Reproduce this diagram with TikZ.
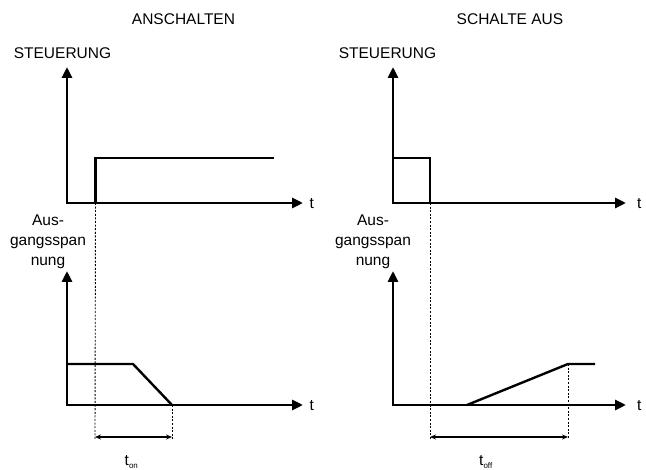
\documentclass[tikz,border=0pt]{standalone}
\usepackage{fontspec}
\setmainfont{Liberation Sans}
\usetikzlibrary{arrows.meta}
\begin{document}
\begin{tikzpicture}[x=1pt,y=-1pt,
  axis/.style={line width=2.8pt,line join=miter,{Triangle[length=11pt,width=10pt]}-{Triangle[length=11pt,width=10pt]}},
  sig/.style={line width=2.4pt,line join=miter},
  guide/.style={line width=0.9pt,dash pattern=on 2pt off 1.6pt},
  span/.style={line width=1.1pt,{Stealth[length=6pt,width=5pt]}-{Stealth[length=6pt,width=5pt]}},
  lbl/.style={font=\fontsize{15.5}{20}\selectfont,inner sep=0pt,anchor=base},
  tl/.style={lbl,anchor=base west}]
\useasboundingbox (0,0) rectangle (646,470);

% ---------- left panel: ANSCHALTEN ----------
\node[lbl] (titleL) at (183.5,25) {ANSCHALTEN};
\node[lbl] (steuL) at (62.5,58.5) {STEUERUNG};
\coordinate (aTopL) at (67,67);
\coordinate (aOrgL) at (67,203);
\coordinate (aEndL) at (303,203);
\draw[axis] (aTopL) -- (aOrgL) -- (aEndL);
\node[tl] (tUL) at (309.5,208.5) {t};
\coordinate (s1) at (95.5,203);
\coordinate (s2) at (95.5,158);
\coordinate (s3) at (274,158);
\draw[sig] (s1) -- (s2) -- (s3);

\node[lbl] (ausL1) at (48,225.5) {Aus-};
\node[lbl] (ausL2) at (48,246) {gangsspan};
\node[lbl] (ausL3) at (48,266) {nung};
\coordinate (bTopL) at (67,271);
\coordinate (bOrgL) at (67,405);
\coordinate (bEndL) at (303,405);
\draw[axis] (bTopL) -- (bOrgL) -- (bEndL);
\node[tl] (tLL) at (309.5,410.5) {t};
\coordinate (o1) at (67,364);
\coordinate (o2) at (133,364);
\coordinate (o3) at (172,405);
\draw[sig] (o1) -- (o2) -- (o3);

\coordinate (gL1) at (95,439);
\coordinate (gL2) at (172,439);
\draw[guide] (s1) -- (gL1);
\draw[guide] (o3) -- (gL2);
\coordinate (arL1) at (95,437);
\coordinate (arL2) at (172,437);
\draw[span] (arL1) -- (arL2);
\node[tl] (ton) at (124.5,465.5) {t\raisebox{-3pt}{\fontsize{8}{8}\selectfont on}};

% ---------- right panel: SCHALTE AUS ----------
\node[lbl] (titleR) at (510,25) {SCHALTE AUS};
\node[lbl] (steuR) at (387.5,58.5) {STEUERUNG};
\coordinate (aTopR) at (393,67);
\coordinate (aOrgR) at (393,203);
\coordinate (aEndR) at (626,203);
\draw[axis] (aTopR) -- (aOrgR) -- (aEndR);
\node[tl] (tUR) at (637,208.5) {t};
\coordinate (p1) at (393,158);
\coordinate (p2) at (430,158);
\coordinate (p3) at (430,203);
\draw[sig] (p1) -- (p2) -- (p3);

\node[lbl] (ausR1) at (373,225.5) {Aus-};
\node[lbl] (ausR2) at (373,246) {gangsspan};
\node[lbl] (ausR3) at (373,266) {nung};
\coordinate (bTopR) at (393,271);
\coordinate (bOrgR) at (393,405);
\coordinate (bEndR) at (626,405);
\draw[axis] (bTopR) -- (bOrgR) -- (bEndR);
\node[tl] (tLR) at (637,410.5) {t};
\coordinate (r1) at (467,405);
\coordinate (r2) at (568,364);
\coordinate (r3) at (595,364);
\draw[sig] (r1) -- (r2) -- (r3);

\coordinate (gR1) at (430,439);
\coordinate (gR2) at (568,439);
\draw[guide] (p3) -- (gR1);
\draw[guide] (r2) -- (gR2);
\coordinate (arR1) at (430,437);
\coordinate (arR2) at (568,437);
\draw[span] (arR1) -- (arR2);
\node[tl] (toff) at (479,465.5) {t\raisebox{-3pt}{\fontsize{8}{8}\selectfont off}};
\end{tikzpicture}
\end{document}
